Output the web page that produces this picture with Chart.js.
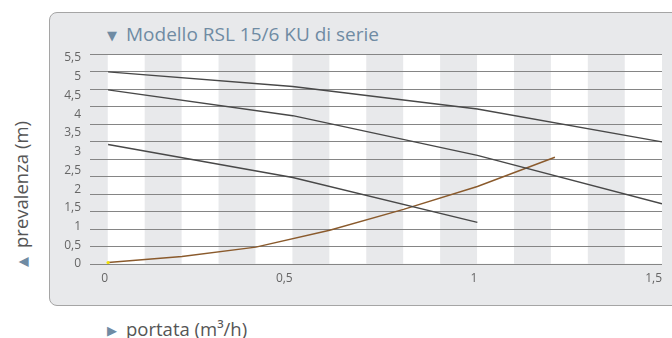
<!DOCTYPE html>
<html>
<head>
<meta charset="utf-8">
<script src="https://cdn.jsdelivr.net/npm/chart.js@4.4.1/dist/chart.umd.min.js"></script>
<style>
  html, body { margin: 0; padding: 0; background: #fff; }
  #wrap { position: relative; width: 672px; height: 338px; overflow: hidden; font-family: "Open Sans", sans-serif; }
  .panel { position: absolute; left: 49px; top: 12px; width: 660px; height: 294px; box-sizing: border-box;
           background: #e8e9eb; border: 1px solid #a5a5a5; border-radius: 8px; }
  .title { position: absolute; left: 107px; top: 23px; font-size: 19px; line-height: 22px; color: #6f8ba3; white-space: nowrap; }
  .tri { font-family: "DejaVu Sans", sans-serif; font-size: 13px; color: #6f8ba3; display: inline-block; width: 19px; vertical-align: 1px; }
  .xtitle { position: absolute; left: 107px; top: 319px; font-size: 18.5px; line-height: 20px; color: #555; white-space: nowrap; }
  .ytitle { position: absolute; left: 11px; top: 267px; font-size: 18.5px; line-height: 20px; color: #555; white-space: nowrap;
            transform-origin: left top; transform: rotate(-90deg); }
  .chartbox { position: absolute; left: 0; top: 0; width: 672px; height: 338px; }
</style>
</head>
<body>
<div id="wrap">
  <div class="panel"></div>
  <div class="title"><span class="tri">▼</span>Modello RSL 15/6 KU di serie</div>
  <div class="ytitle"><span class="tri">▲</span>prevalenza (m)</div>
  <div class="xtitle"><span class="tri">▶</span>portata (m³/h)</div>
  <div class="chartbox"><canvas id="chart"></canvas></div>
</div>
<script>
(function () {
  // curve pompa (portata m3/h -> prevalenza m)
  var flowPump = [0, 0.5, 1, 1.5];
  var headHigh = [5.13, 4.74, 4.14, 3.26];
  var headMid = [4.65, 3.96, 2.90, 1.61];
  var flowLow = [0, 0.5, 1];
  var headLow = [3.19, 2.31, 1.11];

  // curva impianto
  var flowSys = [0, 0.2, 0.4, 0.6, 0.8, 1.0, 1.21];
  var headSys = [0.04, 0.20, 0.45, 0.90, 1.46, 2.07, 2.85];

  // colonne di sfondo (0,1 m3/h ciascuna)
  var stripeX = [0.05, 0.15, 0.25, 0.35, 0.45, 0.55, 0.65, 0.75, 0.85, 0.95, 1.05, 1.15, 1.25, 1.35, 1.45];
  var stripeH = [12, 12, 12, 12, 12, 12, 12, 12, 12, 12, 12, 12, 12, 12, 12];

  var xTicks = [0, 0.5, 1, 1.5];
  var yTicks = [0, 0.5, 1, 1.5, 2, 2.5, 3, 3.5, 4, 4.5, 5, 5.5];
  var xMin = -0.049, xMax = 1.5;
  var yMax = 5.607;
  var gridSteps = 12;

  var curveColor = '#484848';
  var sysColor = '#8a5a2c';

  function pts(xs, ys) {
    return xs.map(function (x, i) { return { x: x, y: ys[i] }; });
  }
  function comma(v) { return String(v).replace('.', ','); }

  // ridisegna la griglia sopra le colonne, sotto le curve
  var gridOverStripes = {
    id: 'gridOverStripes',
    afterDatasetDraw: function (chart, args) {
      if (args.meta.type === 'bar') chart.scales.yg.drawGrid(chart.chartArea);
    }
  };

  var lineDefaults = { type: 'line', borderWidth: 1.4, pointRadius: 0, tension: 0, fill: false, order: 0 };

  new Chart(document.getElementById('chart'), {
    data: {
      datasets: [
        {
          type: 'bar', data: pts(stripeX, stripeH), yAxisID: 'yg', order: 10,
          backgroundColor: function (c) { return c.dataIndex % 2 ? '#e8e9eb' : '#ffffff'; },
          borderWidth: 0, barPercentage: 1, categoryPercentage: 1, grouped: false
        },
        Object.assign({}, lineDefaults, { data: pts(flowPump, headHigh), borderColor: curveColor }),
        Object.assign({}, lineDefaults, { data: pts(flowPump, headMid), borderColor: curveColor }),
        Object.assign({}, lineDefaults, { data: pts(flowLow, headLow), borderColor: curveColor }),
        Object.assign({}, lineDefaults, {
          data: pts(flowSys, headSys), borderColor: sysColor,
          pointRadius: function (c) { return c.dataIndex === 0 ? 1.6 : 0; },
          pointBackgroundColor: '#f2e200', pointBorderWidth: 0
        })
      ]
    },
    options: {
      responsive: true,
      maintainAspectRatio: false,
      animation: false,
      events: [],
      layout: { padding: { top: 54, right: 10, left: 0, bottom: 0 } },
      plugins: { legend: { display: false }, tooltip: { enabled: false } },
      scales: {
        x: {
          type: 'linear', min: xMin, max: xMax, offset: false,
          afterBuildTicks: function (s) { s.ticks = xTicks.map(function (v) { return { value: v }; }); },
          afterFit: function (s) { s.height = 74; },
          grid: { display: false, drawTicks: false, offset: false },
          border: { display: false },
          ticks: { align: 'end', padding: 7, color: '#666', font: { family: 'Open Sans', size: 12 }, callback: comma }
        },
        y: {
          type: 'linear', position: 'left', min: 0, max: yMax,
          afterBuildTicks: function (s) { s.ticks = yTicks.map(function (v) { return { value: v }; }); },
          afterFit: function (s) { s.width = 90; },
          grid: { display: false, drawTicks: false },
          border: { display: false },
          ticks: { padding: 9, color: '#666', font: { family: 'Open Sans', size: 12 }, callback: comma }
        },
        yg: {
          type: 'linear', position: 'right', min: 0, max: gridSteps,
          afterFit: function (s) { s.width = 0; },
          ticks: { display: false, stepSize: 1 },
          grid: { color: '#858585', lineWidth: 1, drawTicks: false },
          border: { display: false }
        }
      }
    },
    plugins: [gridOverStripes]
  });
})();
</script>
</body>
</html>
